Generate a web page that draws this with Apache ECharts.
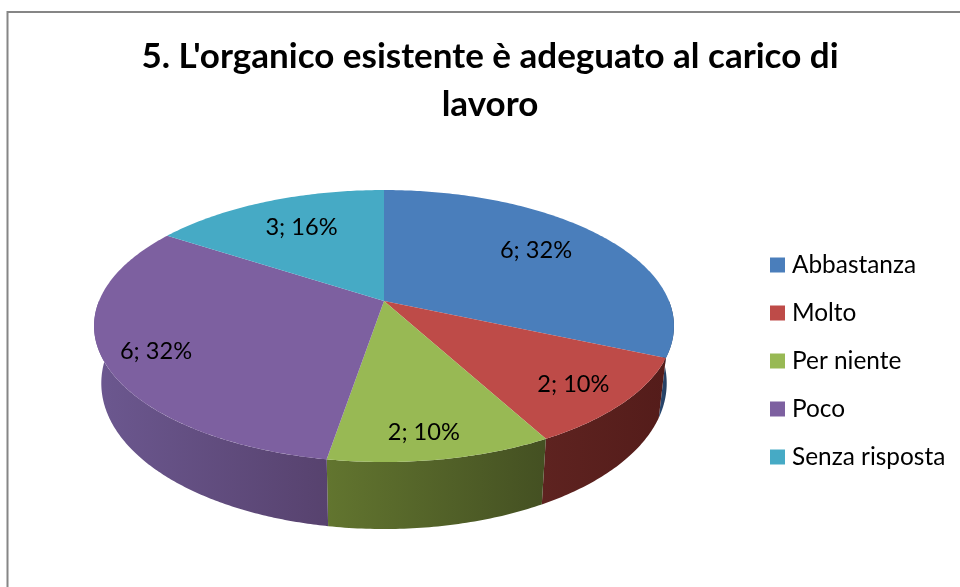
<!DOCTYPE html>
<html><head><meta charset="utf-8">
<style>html,body{margin:0;padding:0;background:#fff}#c{width:960px;height:587px}</style>
<script src="https://cdn.jsdelivr.net/npm/echarts@6/dist/echarts.min.js"></script>
</head><body><div id="c"></div>
<script>
const categories = ['Abbastanza','Molto','Per niente','Poco','Senza risposta'];
const counts = [6,2,2,6,3];
const percents = [32,10,10,32,16];
const topColors = ['#4A7EBB','#BE4B48','#98B954','#7D60A0','#46AAC5'];
const sideLeft = ['#2A4A72','#5E2320','#62752F','#6C5890','#2A6A7C'];
const sideRight = ['#1E3350','#541C1A','#445022','#57426E','#2A6A7C'];
const labelRadius = [0.70,0.80,0.86,0.78,0.72];
const labelNudgeX = [-4,3,-8,-12,5];
const labelNudgeY = [-4,4,-1,7,1];
const FONT = 'Lato';
const CX=384, CY=301, RX=285, A=131.4, P=0.184;
const total = counts.reduce((a,b)=>a+b,0);
function rim(theta,r){
  const X=r*Math.sin(theta), Y=-r*Math.cos(theta), d=1-P*Y;
  return {x:CX+RX*X/d, y:CY+A*Y/d, Y};
}
function low(theta){
  const p=rim(theta,1);
  return [CX+(p.x-CX)*0.975, p.y+55+12*p.Y];
}
let acc=0;
const series = categories.map((name,i)=>{
  const start=acc/total*2*Math.PI; acc+=counts[i];
  const end=acc/total*2*Math.PI;
  return {
    type:'custom', name, coordinateSystem:'none',
    itemStyle:{color:topColors[i]},
    data:[[counts[i],percents[i]]],
    renderItem(params,api){
      const n=Math.max(8,Math.round((end-start)*80));
      const pts=[[CX,CY]];
      for(let k=0;k<=n;k++){const p=rim(start+(end-start)*k/n,1);pts.push([p.x,p.y]);}
      const children=[{type:'polygon',z2:10,shape:{points:pts},style:{fill:topColors[i]}}];
      const a=Math.max(start,Math.PI/2), b=Math.min(end,Math.PI*1.5);
      if(b>a){
        const up=[],dn=[];
        for(let k=0;k<=n;k++){
          const t=a+(b-a)*k/n, p=rim(t,1);
          up.push([p.x,p.y]); dn.unshift(low(t));
        }
        children.push({type:'polygon',z2:1,shape:{points:up.concat(dn)},style:{
          fill:new echarts.graphic.LinearGradient(0,0,1,0,[{offset:0,color:sideLeft[i]},{offset:1,color:sideRight[i]}])}});
      }
      const lp=rim((start+end)/2,labelRadius[i]);
      children.push({type:'text',z2:20,x:lp.x+labelNudgeX[i],y:lp.y+labelNudgeY[i],style:{
        text:api.value(0)+'; '+api.value(1)+'%',fill:'#000',font:'23.6px '+FONT,align:'center',verticalAlign:'middle'}});
      return {type:'group',children};
    }
  };
});
const chart=echarts.init(document.getElementById('c'),null,{renderer:'canvas'});
chart.setOption({
  animation:false,
  backgroundColor:'#fff',
  title:{text:"5. L'organico esistente è adeguato al carico di\nlavoro",left:485,top:28,textAlign:'center',
    textStyle:{fontFamily:FONT,fontWeight:'bold',fontSize:35,lineHeight:48,color:'#000'}},
  legend:{orient:'vertical',left:765,top:246,icon:'rect',itemWidth:15,itemHeight:15,itemGap:20,
    data:categories,textStyle:{fontFamily:FONT,fontSize:24.4,color:'#000',lineHeight:28,padding:[0,0,0,2]}},
  graphic:[{type:'rect',z:-1,shape:{x:7.5,y:12,width:1000,height:640},style:{fill:'none',stroke:'#868686',lineWidth:2}}],
  series
});
</script></body></html>
